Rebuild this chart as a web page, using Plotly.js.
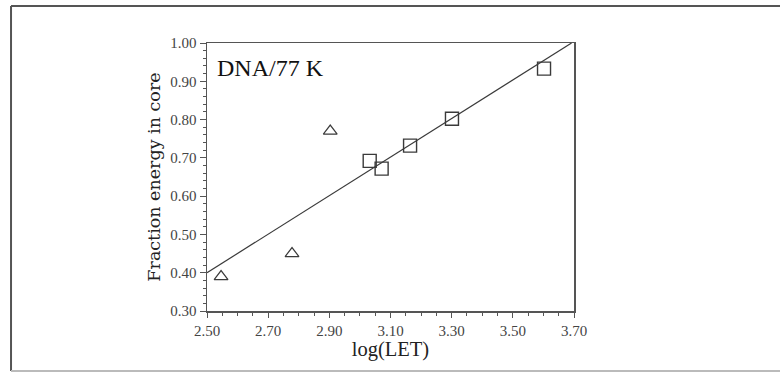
<!DOCTYPE html>
<html>
<head>
<meta charset="utf-8">
<script src="https://cdn.plot.ly/plotly-3.0.1.min.js"></script>
<style>
html,body{margin:0;padding:0;background:#fff;}
#chart{width:780px;height:372px;}
</style>
</head>
<body>
<div id="chart"></div>
<script>
// Data
var triangleLogLET = [2.546, 2.778, 2.903];
var triangleFraction = [0.39, 0.45, 0.77];
var squareLogLET = [3.032, 3.071, 3.164, 3.301, 3.602];
var squareFraction = [0.692, 0.672, 0.732, 0.802, 0.933];
var fitLogLET = [2.50, 3.692];
var fitFraction = [0.40, 1.00];
var xTickValues = [2.50, 2.70, 2.90, 3.10, 3.30, 3.50, 3.70];
var yTickValues = [0.30, 0.40, 0.50, 0.60, 0.70, 0.80, 0.90, 1.00];
var panelLabel = "DNA/77 K";
var xTitle = "log(LET)";
var yTitle = "Fraction energy in core";

var serif = "Liberation Serif, Times New Roman, serif";
var ink = "#3a3a3a";

var traces = [
  {
    x: fitLogLET, y: fitFraction, mode: "lines", type: "scatter",
    line: {color: ink, width: 1.2}, hoverinfo: "skip", showlegend: false
  },
  {
    x: triangleLogLET, y: triangleFraction, mode: "markers", type: "scatter",
    marker: {symbol: "triangle-up-open", size: 12, color: ink, line: {width: 1.2, color: ink}},
    showlegend: false
  },
  {
    x: squareLogLET, y: squareFraction, mode: "markers", type: "scatter",
    marker: {symbol: "square-open", size: 13, color: ink, line: {width: 1.4, color: ink}},
    showlegend: false
  }
];

var axisCommon = {
  showgrid: false, zeroline: false,
  showline: true, linecolor: "#555", linewidth: 1.5, mirror: true,
  ticks: "outside", ticklen: 6, tickwidth: 1, tickcolor: "#555",
  tickfont: {family: serif, size: 15, color: "#444"}
};

var layout = {
  width: 780, height: 372,
  margin: {l: 207, r: 206, t: 43, b: 61},
  paper_bgcolor: "#fff", plot_bgcolor: "#fff",
  xaxis: Object.assign({}, axisCommon, {
    range: [2.5, 3.7], tickvals: xTickValues,
    ticktext: xTickValues.map(function(v){return v.toFixed(2);}),
    ticklen: 5,
    minor: {dtick: 0.05, tick0: 2.5, ticks: "outside", ticklen: 3, tickcolor: "#555", tickwidth: 1},
    title: {text: xTitle, standoff: 4, font: {family: serif, size: 20.5, color: "#222"}}
  }),
  yaxis: Object.assign({}, axisCommon, {
    range: [0.3, 1.0], tickvals: yTickValues,
    ticktext: yTickValues.map(function(v){return v.toFixed(2);}),
    minor: {dtick: 0.02, tick0: 0.3, ticks: "outside", ticklen: 3, tickcolor: "#555", tickwidth: 1},
    title: {text: yTitle, standoff: 5, font: {family: "DejaVu Serif, serif", size: 17.5, color: "#222"}}
  }),
  annotations: [{
    xref: "paper", yref: "paper", x: 0.022, y: 0.905, xanchor: "left", yanchor: "middle",
    text: panelLabel, showarrow: false,
    font: {family: serif, size: 24, color: "#111"}
  }],
  shapes: [
    {type: "line", xref: "paper", yref: "paper", x0: -0.534, x1: 1.6, y0: 1.138, y1: 1.138,
     line: {color: "#555", width: 2}},
    {type: "line", xref: "paper", yref: "paper", x0: -0.534, x1: -0.534, y0: 1.138, y1: -0.224,
     line: {color: "#555", width: 2}},
    {type: "line", xref: "paper", yref: "paper", x0: -0.534, x1: 1.6, y0: -0.224, y1: -0.224,
     line: {color: "#bbb", width: 2}}
  ]
};

Plotly.newPlot("chart", traces, layout, {displayModeBar: false, staticPlot: true});
</script>
</body>
</html>
